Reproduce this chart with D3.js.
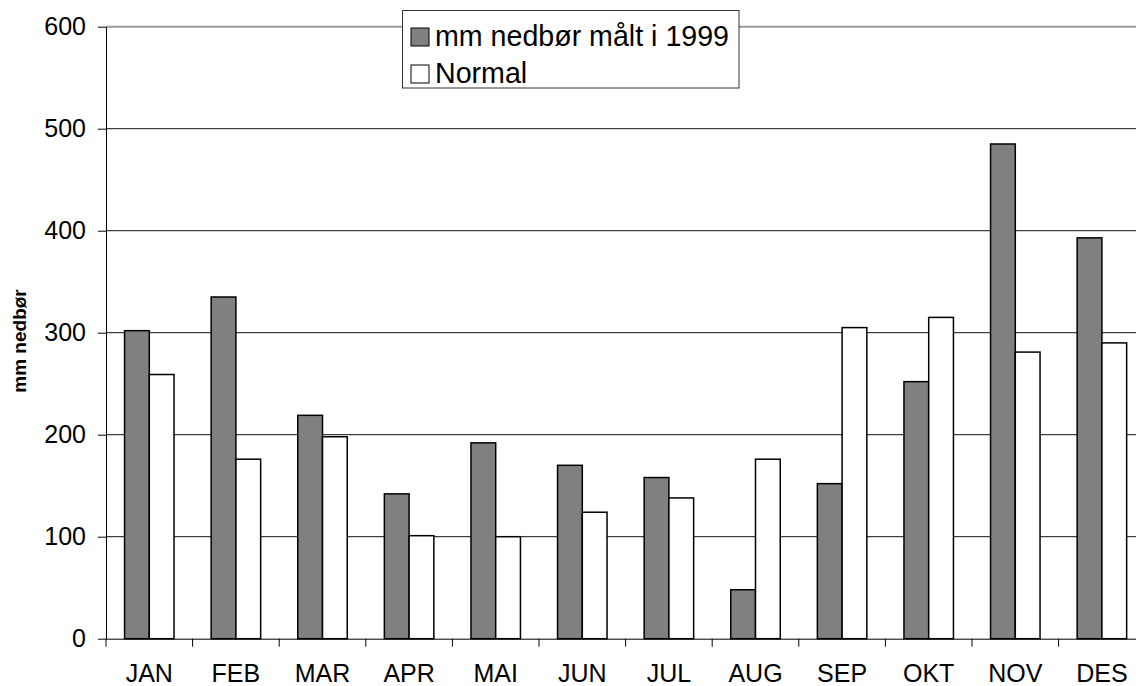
<!DOCTYPE html>
<html><head><meta charset="utf-8">
<script src="https://cdn.jsdelivr.net/npm/d3@7"></script>
<style>
html,body{margin:0;padding:0;background:#fff;overflow:hidden}
svg{display:block;font-family:Arial,"Liberation Sans",sans-serif}
</style></head>
<body><svg id="c" width="1136" height="686"></svg>
<script>
const months = ["JAN","FEB","MAR","APR","MAI","JUN","JUL","AUG","SEP","OKT","NOV","DES"];
const measured1999 = [302,335,219,142,192,170,158,48,152,252,485,393];
const normal = [259,176,198,101,100,124,138,176,305,315,281,290];
const seriesNames = ["mm nedbør målt i 1999","Normal"];
const seriesColors = ["#808080","#ffffff"];
const yTicks = [0,100,200,300,400,500,600];
const yTitle = "mm nedbør";

const svg = d3.select("#c");
const L = 106, R = 106 + 12*86.6, T = 26.7, B = 638.7;

const x0 = d3.scaleBand().domain(months).range([L, R]).padding(0);
const x1 = d3.scaleBand().domain(seriesNames).range([0, x0.bandwidth()]).paddingInner(0).paddingOuter(0.75);
const y = d3.scaleLinear().domain([0,600]).range([B, T]);

// gridlines
svg.append("g").selectAll("line").data(yTicks.filter(d => d>0 && d<600)).join("line")
  .attr("x1", L).attr("x2", R).attr("y1", d => y(d)).attr("y2", d => y(d))
  .attr("stroke", "#111").attr("stroke-width", 1);
// top border
svg.append("line").attr("x1", L).attr("x2", R).attr("y1", y(600)).attr("y2", y(600))
  .attr("stroke", "#999").attr("stroke-width", 2);

// bars
const data = months.map((m,i) => ({m, vals:[measured1999[i], normal[i]]}));
const g = svg.append("g");
data.forEach(d => {
  d.vals.forEach((v,j) => {
    g.append("rect")
      .attr("x", x0(d.m) + x1(seriesNames[j]))
      .attr("y", y(v))
      .attr("width", x1.bandwidth())
      .attr("height", B - y(v))
      .attr("fill", seriesColors[j])
      .attr("stroke", "#000").attr("stroke-width", 1.5);
  });
});

// y axis
const yAxis = d3.axisLeft(y).tickValues(yTicks).tickSize(8).tickSizeOuter(0).tickPadding(12);
const ya = svg.append("g").attr("transform", `translate(${L},0)`).call(yAxis);
ya.select(".domain").attr("stroke", "#000");
ya.selectAll(".tick line").attr("stroke", "#000");
ya.selectAll("text").attr("font-size", 25).attr("fill", "#000").attr("font-family", "Arial, 'Liberation Sans', sans-serif");

// x axis
const xAxis = d3.axisBottom(x0).tickSize(0).tickSizeOuter(0).tickPadding(26);
const xa = svg.append("g").attr("transform", `translate(0,${B})`).call(xAxis);
xa.select(".domain").attr("stroke", "#000");
xa.selectAll("text").attr("font-size", 25).attr("fill", "#000").attr("font-family", "Arial, 'Liberation Sans', sans-serif");
// boundary ticks
xa.selectAll(".btick").data(d3.range(months.length+1)).join("line")
  .attr("x1", i => L + i*x0.step()).attr("x2", i => L + i*x0.step())
  .attr("y1", 0).attr("y2", 8).attr("stroke", "#000");

// y title
svg.append("text").attr("transform", `translate(26,341) rotate(-90)`)
  .attr("text-anchor", "middle").attr("font-weight", "bold").attr("font-size", 19)
  .text(yTitle);

// legend
const lg = svg.append("g");
lg.append("rect").attr("x", 402.5).attr("y", 10.5).attr("width", 336.5).attr("height", 77.5)
  .attr("fill", "#fff").attr("stroke", "#333").attr("stroke-width", 1);
seriesNames.forEach((s,j) => {
  const yy = 28 + j*37;
  lg.append("rect").attr("x", 411).attr("y", yy).attr("width", 18).attr("height", 18)
    .attr("fill", seriesColors[j]).attr("stroke", "#000").attr("stroke-width", 1);
  lg.append("text").attr("x", 435).attr("y", yy + 18).attr("font-size", 28.6).attr("fill", "#000").text(s);
});
</script></body></html>
